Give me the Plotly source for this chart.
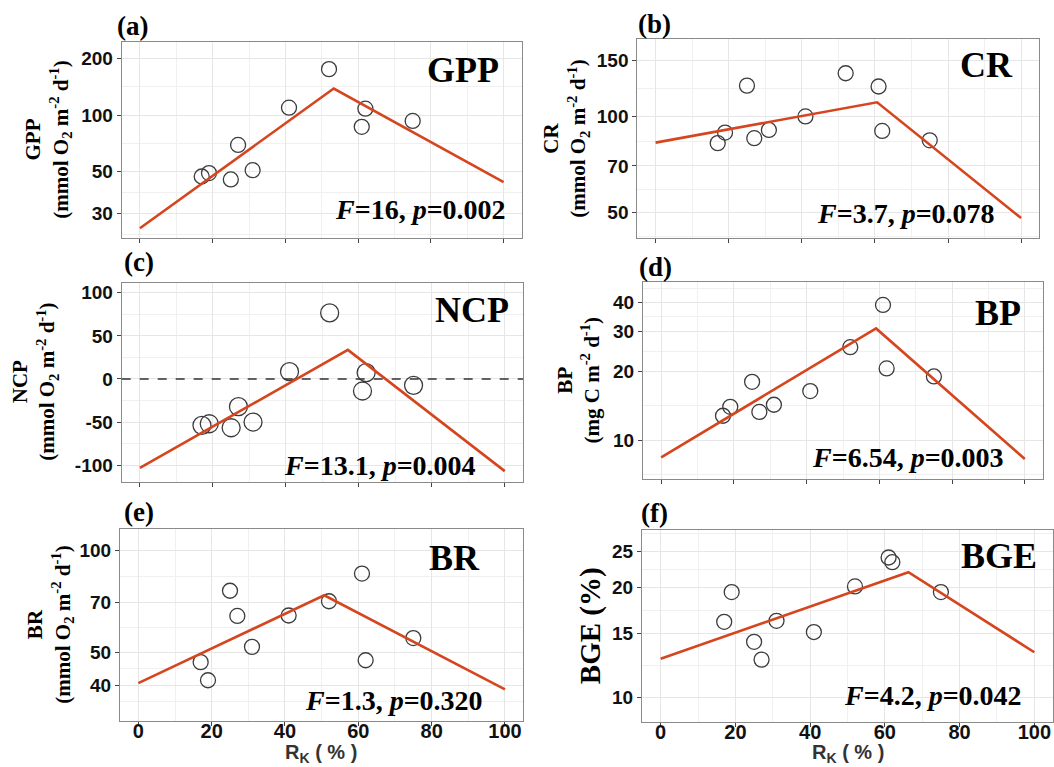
import math
import plotly.graph_objects as go
from plotly.subplots import make_subplots

# ---------------- data ----------------
rk = [17, 19, 25, 27, 31, 41, 52, 61, 62, 75]

gpp = [47.2, 49.2, 45.5, 69.5, 51.0, 109.7, 176.0, 86.8, 108.4, 93.3]
cr = [82.5, 89.0, 124.8, 85.5, 90.7, 100.0, 136.4, 124.0, 90.1, 84.2]
ncp = [-53.7, -51.9, -56.5, -32.1, -49.9, 8.5, 76.6, -13.9, 7.3, -7.4]
bp = [12.8, 14.0, 18.0, 13.3, 14.3, 16.4, 25.5, 39.0, 20.6, 19.0]
br = [46.8, 41.4, 75.9, 64.0, 51.9, 64.2, 70.7, 85.3, 47.4, 55.1]
bge = [16.1, 19.4, 14.2, 12.7, 16.2, 15.1, 20.1, 24.1, 23.4, 19.4]

gpp_fit_x = [0, 53.3, 100]
gpp_fit_y = [25.0, 138.8, 44.1]
cr_fit_x = [0, 60.6, 100]
cr_fit_y = [82.8, 110.7, 48.1]
ncp_fit_x = [0, 57.0, 100]
ncp_fit_y = [-103.0, 33.7, -106.8]
bp_fit_x = [0, 59.1, 100]
bp_fit_y = [8.43, 30.8, 8.28]
br_fit_x = [0, 50.7, 100]
br_fit_y = [40.6, 73.6, 38.9]
bge_fit_x = [0, 66.3, 100]
bge_fit_y = [12.77, 21.97, 13.3]

x_ticks = [0, 20, 40, 60, 80, 100]
gpp_ticks = [30, 50, 100, 200]
cr_ticks = [50, 70, 100, 150]
ncp_ticks = [-100, -50, 0, 50, 100]
bp_ticks = [10, 20, 30, 40]
br_ticks = [40, 50, 70, 100]
bge_ticks = [10, 15, 20, 25]

panel_labels = ["(a)", "(b)", "(c)", "(d)", "(e)", "(f)"]
panel_titles = ["GPP", "CR", "NCP", "BP", "BR", "BGE"]
stats_text = ["<i>F</i>=16, <i>p</i>=0.002", "<i>F</i>=3.7, <i>p</i>=0.078",
              "<i>F</i>=13.1, <i>p</i>=0.004", "<i>F</i>=6.54, <i>p</i>=0.003",
              "<i>F</i>=1.3, <i>p</i>=0.320", "<i>F</i>=4.2, <i>p</i>=0.042"]
y_titles = ["GPP<br>(mmol O<sub>2</sub> m<sup>-2</sup> d<sup>-1</sup>)",
            "CR<br>(mmol O<sub>2</sub> m<sup>-2</sup> d<sup>-1</sup>)",
            "NCP<br>(mmol O<sub>2</sub> m<sup>-2</sup> d<sup>-1</sup>)",
            "BP<br>(mg C m<sup>-2</sup> d<sup>-1</sup>)",
            "BR<br>(mmol O<sub>2</sub> m<sup>-2</sup> d<sup>-1</sup>)",
            "BGE (%)"]
x_title = "R<sub>K</sub> ( % )"

# ---------------- layout geometry (pixels) ----------------
W, H = 1054, 767
boxes = [  # left, right, top, bottom
    (121.7, 521.8, 42.0, 237.5),
    (637.3, 1039.4, 39.3, 238.3),
    (121.7, 523.0, 282.7, 482.0),
    (643.0, 1043.0, 281.7, 479.3),
    (120.0, 523.3, 529.0, 720.5),
    (642.0, 1053.0, 530.0, 722.3),
]
y_ranges = [
    ("log", [1.349, 2.390]),
    ("log", [1.619, 2.241]),
    ("linear", [-119.4, 111.6]),
    ("log", [0.8297, 1.6926]),
    ("log", [1.4985, 2.062]),
    ("log", [0.933, 1.457]),
]
ytitle_x = [48, 566, 35.5, 578, 50, 590]
ytitle_size = [21, 21, 21, 21, 21, 29]
label_pos = [(132.6, 26), (654.5, 24), (138.6, 262), (655, 267), (138.6, 512), (654, 513)]
title_pos = [(501, 70), (1015, 65), (511, 310), (1023, 313), (482, 558), (1039, 556)]
stats_pos = [(508, 209), (997, 213), (478, 465), (1006, 457), (485, 700), (1024, 695)]
xtitle_pos = [(321, 753), (848, 753)]

series = [gpp, cr, ncp, bp, br, bge]
fits = [(gpp_fit_x, gpp_fit_y), (cr_fit_x, cr_fit_y), (ncp_fit_x, ncp_fit_y),
        (bp_fit_x, bp_fit_y), (br_fit_x, br_fit_y), (bge_fit_x, bge_fit_y)]
yticks = [gpp_ticks, cr_ticks, ncp_ticks, bp_ticks, br_ticks, bge_ticks]

LINE_COLOR = "#D6461E"
PT_COLOR = "#3c3c3c"
GRID = "#E6E6E6"
MINOR = "#F0F0F0"
BORDER = "#8a8a8a"
SANS = "Liberation Sans, Arial, sans-serif"
SERIF = "Liberation Serif, Times New Roman, serif"


def minor_breaks(majors, lo, hi, log):
    t = [math.log10(v) for v in majors] if log else list(majors)
    if lo < t[0]:
        t = [t[0] - (t[1] - t[0])] + t
    if hi > t[-1]:
        t = t + [t[-1] + (t[-1] - t[-2])]
    mids = [(a + b) / 2 for a, b in zip(t[:-1], t[1:])]
    mids = [m for m in mids if lo <= m <= hi]
    return [10 ** m for m in mids] if log else mids


fig = make_subplots(rows=3, cols=2)

for i in range(6):
    r, c = i // 2 + 1, i % 2 + 1
    fig.add_trace(go.Scatter(
        x=rk, y=series[i], mode="markers",
        marker=dict(symbol="circle-open", size=18 if i == 2 else 15,
                    color=PT_COLOR, line=dict(width=1.3)),
        showlegend=False, hoverinfo="skip"), row=r, col=c)
    fig.add_trace(go.Scatter(
        x=fits[i][0], y=fits[i][1], mode="lines",
        line=dict(color=LINE_COLOR, width=2.6),
        showlegend=False, hoverinfo="skip"), row=r, col=c)

    l, rr, t, b = boxes[i]
    xa = "xaxis" if i == 0 else f"xaxis{i + 1}"
    ya = "yaxis" if i == 0 else f"yaxis{i + 1}"
    ytype, yr = y_ranges[i]
    fig.layout[xa].update(
        domain=[l / W, rr / W], range=[-5, 105],
        tickmode="array", tickvals=x_ticks, ticktext=[str(v) for v in x_ticks],
        showticklabels=(i >= 4), ticklabelstandoff=-12,
        ticks="outside", ticklen=4, tickwidth=1, tickcolor="#444",
        tickfont=dict(family=SANS, size=20, color="#111", weight="bold"),
        showgrid=True, gridcolor=GRID, gridwidth=1,
        minor=dict(tickmode="array", tickvals=[10, 30, 50, 70, 90], showgrid=True,
                   gridcolor=MINOR, gridwidth=0.8, ticks=""),
        showline=True, mirror=True, linecolor=BORDER, linewidth=1,
        zeroline=False, fixedrange=True)
    fig.layout[ya].update(
        domain=[1 - b / H, 1 - t / H], type=ytype, range=yr,
        tickmode="array", tickvals=yticks[i],
        ticktext=[str(v) for v in yticks[i]],
        ticks="outside", ticklen=4, tickwidth=1, tickcolor="#444",
        tickfont=dict(family=SANS, size=19, color="#111", weight="bold"),
        showgrid=True, gridcolor=GRID, gridwidth=1,
        minor=dict(tickmode="array",
                   tickvals=minor_breaks(yticks[i], yr[0], yr[1], ytype == "log"),
                   showgrid=True, gridcolor=MINOR, gridwidth=0.8, ticks=""),
        showline=True, mirror=True, linecolor=BORDER, linewidth=1,
        zeroline=False, fixedrange=True)

# dashed zero line in NCP panel
fig.add_shape(type="line", xref="x3 domain", yref="y3", x0=0, x1=1, y0=0, y1=0,
              line=dict(color="#333", width=1.6, dash="dash"), layer="above")

ann = []
for i in range(6):
    lx, ly = label_pos[i]
    ann.append(dict(text=panel_labels[i], x=lx / W, y=1 - ly / H, xref="paper", yref="paper",
                    xanchor="center", yanchor="middle", showarrow=False,
                    font=dict(family=SERIF, size=27, color="#000", weight="bold")))
    tx, ty = title_pos[i]
    ann.append(dict(text=panel_titles[i], x=tx / W, y=1 - ty / H, xref="paper", yref="paper",
                    xanchor="right", yanchor="middle", showarrow=False,
                    font=dict(family=SERIF, size=36, color="#000", weight="bold")))
    sx, sy = stats_pos[i]
    ann.append(dict(text=stats_text[i], x=sx / W, y=1 - sy / H, xref="paper", yref="paper",
                    xanchor="right", yanchor="middle", showarrow=False,
                    font=dict(family=SERIF, size=28, color="#000", weight="bold")))
    l, rr, t, b = boxes[i]
    ann.append(dict(text=y_titles[i], x=ytitle_x[i] / W, y=1 - (t + b) / 2 / H,
                    xref="paper", yref="paper", xanchor="center", yanchor="middle",
                    textangle=-90, showarrow=False,
                    font=dict(family=SERIF, size=ytitle_size[i], color="#000", weight="bold")))
for (xx, yy) in xtitle_pos:
    ann.append(dict(text=x_title, x=xx / W, y=1 - yy / H, xref="paper", yref="paper",
                    xanchor="center", yanchor="middle", showarrow=False,
                    font=dict(family=SANS, size=20, color="#333", weight="bold")))

fig.update_layout(
    width=W, height=H, margin=dict(l=0, r=0, t=0, b=0),
    paper_bgcolor="white", plot_bgcolor="white",
    annotations=ann, showlegend=False)

fig.write_html("out.html", config={"displayModeBar": False},
               post_script="document.body.style.margin='0';document.body.style.overflow='hidden';")
